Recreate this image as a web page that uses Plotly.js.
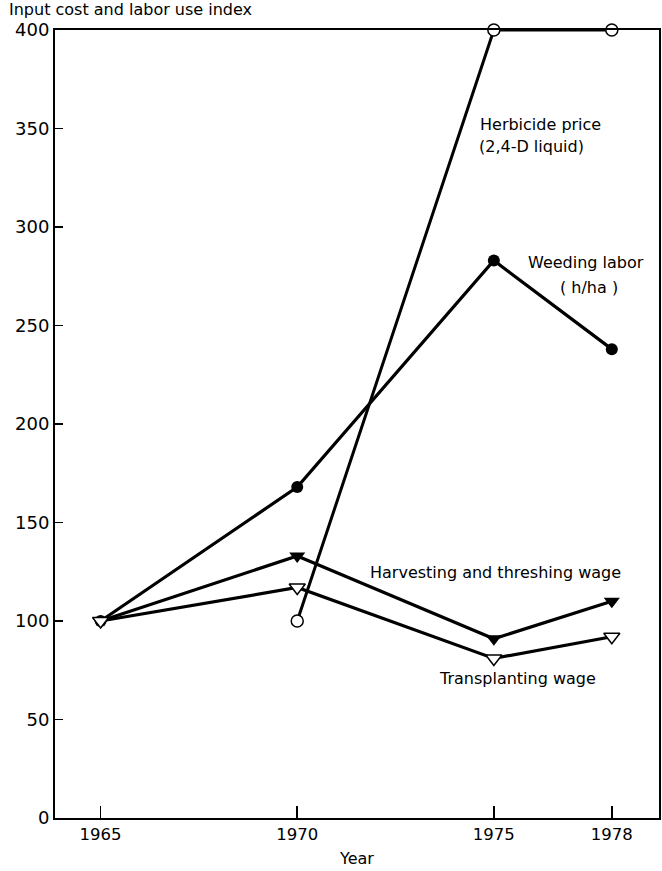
<!DOCTYPE html>
<html>
<head>
<meta charset="utf-8">
<script src="https://cdn.plot.ly/plotly-3.0.1.min.js"></script>
<style>html,body{margin:0;padding:0;background:#fff;}#chart{width:662px;height:871px;}</style>
</head>
<body>
<div id="chart"></div>
<script>
const years = [1965, 1970, 1975, 1978];
const herbicideYears = [1970, 1975, 1978];
const herbicidePrice = [100, 400, 400];
const weedingLabor = [100, 168, 283, 238];
const harvestingWage = [100, 133, 91, 110];
const transplantingWage = [100, 117, 81, 92];
const yTicks = [0, 50, 100, 150, 200, 250, 300, 350, 400];
const xTicks = [1965, 1970, 1975, 1978];

const FONT = 'DejaVu Sans, Liberation Sans, sans-serif';
const traces = [
  {x: herbicideYears, y: herbicidePrice, mode: 'lines+markers', cliponaxis: false,
   line: {color: '#000', width: 3},
   marker: {symbol: 'circle', size: 12, color: '#fff', line: {color: '#000', width: 1.5}}},
  {x: years, y: weedingLabor, mode: 'lines+markers', cliponaxis: false,
   line: {color: '#000', width: 3.2},
   marker: {symbol: 'circle', size: 12, color: '#000'}},
  {x: years, y: harvestingWage, mode: 'lines+markers', cliponaxis: false,
   line: {color: '#000', width: 3.2},
   marker: {symbol: 'triangle-down', size: 14, color: '#000'}},
  {x: years, y: transplantingWage, mode: 'lines+markers', cliponaxis: false,
   line: {color: '#000', width: 3.2},
   marker: {symbol: 'triangle-down', size: 14, color: '#fff', line: {color: '#000', width: 1.5}}}
];

const ann = (x, y, text) => ({x, y, xref: 'x', yref: 'y', text, showarrow: false,
  xanchor: 'left', yanchor: 'middle', font: {family: FONT, size: 16, color: '#000'}});

const layout = {
  width: 662, height: 871,
  margin: {l: 55, r: 3, t: 30, b: 53},
  paper_bgcolor: '#fff', plot_bgcolor: '#fff',
  showlegend: false,
  font: {family: FONT, size: 16, color: '#000'},
  xaxis: {range: [1963.84, 1979.20], tickvals: xTicks, ticks: 'inside', ticklen: 12, tickwidth: 1.5,
    tickcolor: '#000', showline: true, linecolor: '#000', linewidth: 2, mirror: true,
    showgrid: false, zeroline: false, tickfont: {family: FONT, size: 16.5},
    title: {text: 'Year', font: {family: FONT, size: 16}, standoff: 10}},
  yaxis: {range: [0, 400], tickvals: yTicks, ticks: 'inside', ticklen: 8, tickwidth: 1.5,
    tickcolor: '#000', showline: true, linecolor: '#000', linewidth: 2, mirror: true,
    showgrid: false, zeroline: false, tickfont: {family: FONT, size: 18}},
  annotations: [
    {xref: 'paper', yref: 'paper', x: -0.08, y: 1, xanchor: 'left', yanchor: 'bottom', yshift: 9,
     text: 'Input cost and labor use index', showarrow: false, font: {family: FONT, size: 16}},
    ann(1974.59, 352, 'Herbicide price'),
    ann(1974.57, 341, '(2,4-D liquid)'),
    ann(1975.81, 282, 'Weeding labor'),
    ann(1976.63, 269.5, '( h/ha )'),
    ann(1971.8, 124.4, 'Harvesting and threshing wage'),
    ann(1973.55, 71, 'Transplanting wage')
  ]
};
Plotly.newPlot('chart', traces, layout, {displayModeBar: false, staticPlot: true});
</script>
</body>
</html>
